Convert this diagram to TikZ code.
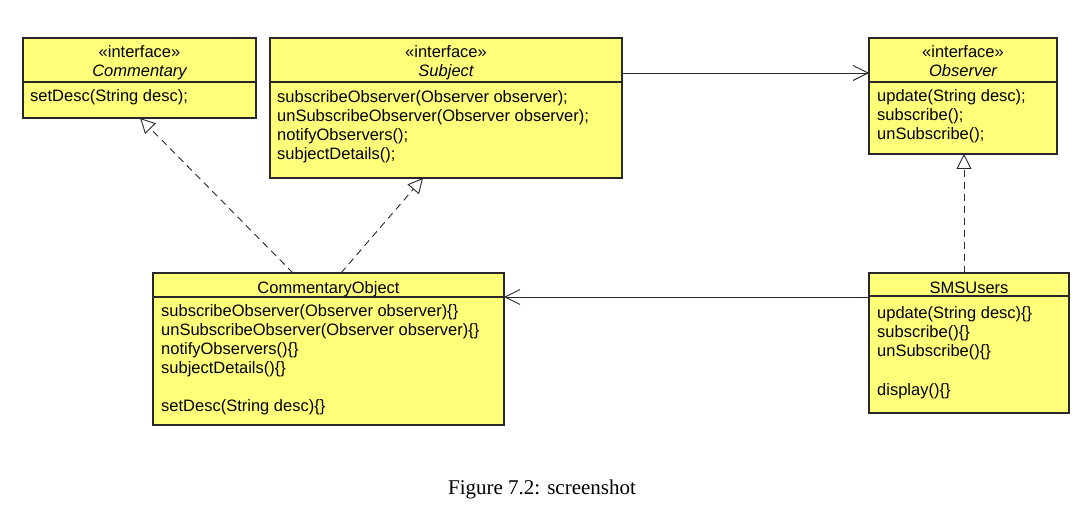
\documentclass[tikz,border=0pt]{standalone}
\usepackage{fontspec}
\setmainfont{Liberation Sans}
\newfontfamily\captionserif{Liberation Serif}
\usetikzlibrary{arrows.meta}
\definecolor{umlyellow}{RGB}{255,255,122}
\definecolor{umlline}{RGB}{40,40,40}
\newcommand\umltext{\fontsize{16.5}{19}\selectfont}
\begin{document}
\begin{tikzpicture}[x=1pt,y=-1pt,
  classbox/.style={draw=umlline, line width=1.2pt, fill=umlyellow,
    anchor=north west, inner sep=0pt, outer sep=0pt},
  divider/.style={draw=umlline, line width=1.1pt},
  member/.style={anchor=base west, inner sep=0pt, font=\umltext},
  heading/.style={anchor=base, inner sep=0pt, font=\umltext},
  realize/.style={draw=umlline, line width=0.9pt, dash pattern=on 7pt off 5pt,
    -{Triangle[open,fill=white,length=15pt,width=15pt]}},
  assoc/.style={draw=umlline, line width=0.9pt,
    -{Straight Barb[length=15pt,width=15pt]}}]
\useasboundingbox (0,0) rectangle (1087,513);

% interface Commentary
\node[classbox, minimum width=233pt, minimum height=80pt] (cm) at (23,38) {};
\draw[divider] ([yshift=-44pt]cm.north west) -- ([yshift=-44pt]cm.north east);
\node[heading] (cmst) at (139.5,58) {«interface»};
\node[heading, font=\umltext\itshape] (cmname) at (139.5,77) {Commentary};
\node[member] (cm1) at (30,102) {setDesc(String desc);};

% interface Subject
\node[classbox, minimum width=352pt, minimum height=140pt] (sub) at (270,38) {};
\draw[divider] ([yshift=-44pt]sub.north west) -- ([yshift=-44pt]sub.north east);
\node[heading] (subst) at (446,58) {«interface»};
\node[heading, font=\umltext\itshape] (subname) at (446,77) {Subject};
\node[member] (sub1) at (277,103) {subscribeObserver(Observer observer);};
\node[member] (sub2) at (277,122) {unSubscribeObserver(Observer observer);};
\node[member] (sub3) at (277,141) {notifyObservers();};
\node[member] (sub4) at (277,160) {subjectDetails();};

% interface Observer
\node[classbox, minimum width=188pt, minimum height=116pt] (obs) at (869,38) {};
\draw[divider] ([yshift=-44pt]obs.north west) -- ([yshift=-44pt]obs.north east);
\node[heading] (obsst) at (963,58) {«interface»};
\node[heading, font=\umltext\itshape] (obsname) at (963,77) {Observer};
\node[member] (obs1) at (877,102) {update(String desc);};
\node[member] (obs2) at (877,121) {subscribe();};
\node[member] (obs3) at (877,140) {unSubscribe();};

% class CommentaryObject
\node[classbox, minimum width=351pt, minimum height=152pt] (co) at (153,273) {};
\draw[divider] ([yshift=-24pt]co.north west) -- ([yshift=-24pt]co.north east);
\node[heading] (coname) at (328.5,293) {CommentaryObject};
\node[member] (co1) at (161,316) {subscribeObserver(Observer observer)\{\}};
\node[member] (co2) at (161,335) {unSubscribeObserver(Observer observer)\{\}};
\node[member] (co3) at (161,354) {notifyObservers()\{\}};
\node[member] (co4) at (161,373) {subjectDetails()\{\}};
\node[member] (co5) at (161,411) {setDesc(String desc)\{\}};

% class SMSUsers
\node[classbox, minimum width=200pt, minimum height=140pt] (sms) at (869,273) {};
\draw[divider] ([yshift=-23pt]sms.north west) -- ([yshift=-23pt]sms.north east);
\node[heading] (smsname) at (969,293) {SMSUsers};
\node[member] (sms1) at (877,318) {update(String desc)\{\}};
\node[member] (sms2) at (877,337) {subscribe()\{\}};
\node[member] (sms3) at (877,356) {unSubscribe()\{\}};
\node[member] (sms4) at (877,395) {display()\{\}};

% associations
\draw[assoc] ([yshift=-35pt]sub.north east) -- ([yshift=-35pt]obs.north west);
\draw[assoc] ([yshift=-24pt]sms.north west) -- ([yshift=-24pt]co.north east);

% realizations
\draw[realize] ([xshift=95pt]sms.north west) -- ([xshift=95pt]obs.south west);
\draw[realize] ([xshift=140pt]co.north west) -- ([xshift=117pt]cm.south west);
\draw[realize] ([xshift=188pt]co.north west) -- ([xshift=153pt]sub.south west);

% caption
\node[anchor=base, inner sep=0pt, font=\captionserif\fontsize{21}{25}\selectfont]
  (caption) at (542,494) {Figure 7.2: screenshot};
\end{tikzpicture}
\end{document}
